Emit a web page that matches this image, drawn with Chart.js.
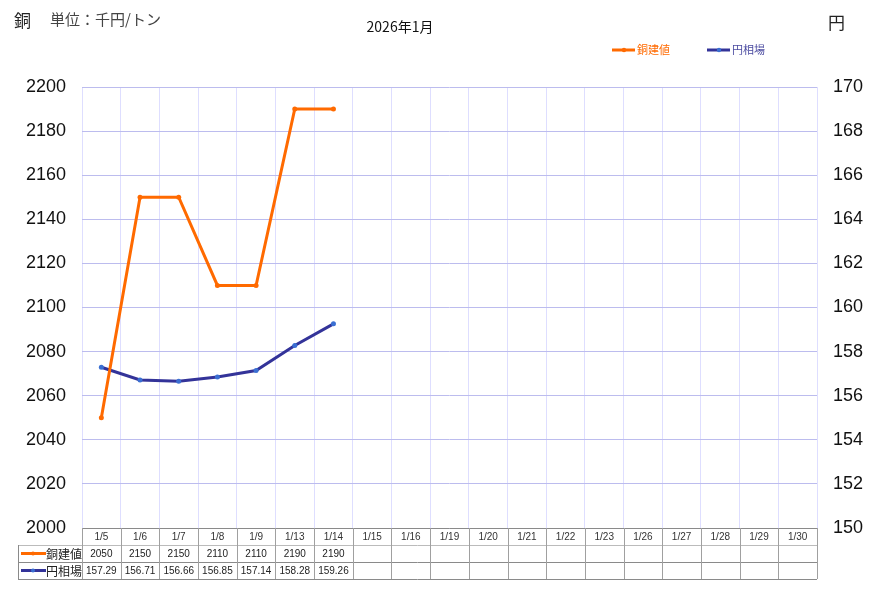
<!DOCTYPE html>
<html><head><meta charset="utf-8">
<script src="https://cdn.jsdelivr.net/npm/chart.js@4.4.1/dist/chart.umd.min.js"></script>
<style>html,body{margin:0;padding:0;background:#fff;}#wrap{width:878px;height:595px;position:relative;}</style>
</head><body><div id="wrap"><canvas id="c" width="878" height="595"></canvas></div>
<script>
const categories = ['1/5','1/6','1/7','1/8','1/9','1/13','1/14','1/15','1/16','1/19','1/20','1/21','1/22','1/23','1/26','1/27','1/28','1/29','1/30'];
const copperValues = [2050,2150,2150,2110,2110,2190,2190];
const yenValues = [157.29,156.71,156.66,156.85,157.14,158.28,159.26];
const copperTableText = ['2050','2150','2150','2110','2110','2190','2190'];
const yenTableText = ['157.29','156.71','156.66','156.85','157.14','158.28','159.26'];
const seriesNames = ['銅建値','円相場'];

const ORANGE = '#ff6a00', NAVY = '#333399', DOT = '#3b6fd2';
const JP = '"Noto Sans CJK JP", "Liberation Sans", sans-serif';
const NUM = '"Liberation Sans", Arial, sans-serif';

const overlay = {
  id: 'overlay',
  afterDraw(chart) {
    const ctx = chart.ctx, ca = chart.chartArea, xs = chart.scales.x;
    ctx.save();
    ctx.fillStyle = '#222'; ctx.textBaseline = 'middle';
    ctx.font = '17px ' + JP; ctx.textAlign = 'left';
    ctx.fillText('銅', 14, 21);
    ctx.fillStyle = '#444'; ctx.font = '15px ' + JP;
    ctx.fillText('単位：千円/トン', 50, 19);
    ctx.fillStyle = '#111'; ctx.font = '14px ' + JP; ctx.textAlign = 'center';
    ctx.fillText('2026年1月', 400, 27);
    ctx.fillStyle = '#222'; ctx.font = '17px ' + JP; ctx.textAlign = 'left';
    ctx.fillText('円', 828, 23);
    const leg = [[612, ORANGE, ORANGE, ORANGE, seriesNames[0], 637], [707, NAVY, DOT, '#4a4aa0', seriesNames[1], 732]];
    leg.forEach(([x, lc, dc, tc, name, tx]) => {
      ctx.strokeStyle = lc; ctx.lineWidth = 3; ctx.beginPath(); ctx.moveTo(x, 50); ctx.lineTo(x + 23, 50); ctx.stroke();
      ctx.fillStyle = dc; ctx.beginPath(); ctx.arc(x + 12, 50, 2.2, 0, Math.PI * 2); ctx.fill();
      ctx.fillStyle = tc; ctx.font = '11px ' + JP; ctx.textAlign = 'left'; ctx.fillText(name, tx, 50);
    });
    const n = categories.length;
    const w = (ca.right - ca.left) / n;
    const r0 = ca.bottom, r1 = r0 + 17, r2 = r1 + 17, r3 = r2 + 17;
    const tl = 18;
    ctx.lineWidth = 1;
    ctx.strokeStyle = '#8a8a8a';
    [[ca.left, r0], [tl, r2], [tl, r3]].forEach(([x0, y]) => { ctx.beginPath(); ctx.moveTo(x0, y + 0.5); ctx.lineTo(ca.right, y + 0.5); ctx.stroke(); });
    ctx.strokeStyle = '#bbbbbb';
    ctx.beginPath(); ctx.moveTo(tl, r1 + 0.5); ctx.lineTo(ca.right, r1 + 0.5); ctx.stroke();
    ctx.strokeStyle = '#8a8a8a';
    ctx.beginPath(); ctx.moveTo(tl + 0.5, r1); ctx.lineTo(tl + 0.5, r3); ctx.stroke();
    for (let i = 0; i <= n; i++) {
      const x = Math.round(xs.getPixelForValue(Math.min(i, n - 1)) + (i === n ? w / 2 : -w / 2)) + 0.5;
      ctx.strokeStyle = '#a0a0a0';
      ctx.beginPath(); ctx.moveTo(x, r0); ctx.lineTo(x, r3); ctx.stroke();
    }
    ctx.fillStyle = '#333'; ctx.font = '10px ' + NUM; ctx.textAlign = 'center';
    categories.forEach((c, i) => ctx.fillText(c, xs.getPixelForValue(i), r0 + 9));
    ctx.fillStyle = '#222';
    copperTableText.forEach((t, i) => ctx.fillText(t, xs.getPixelForValue(i), r1 + 9));
    yenTableText.forEach((t, i) => ctx.fillText(t, xs.getPixelForValue(i), r2 + 9));
    [[r1, ORANGE, ORANGE, seriesNames[0]], [r2, NAVY, DOT, seriesNames[1]]].forEach(([ry, lc, dc, name]) => {
      const y = ry + 8.5;
      ctx.strokeStyle = lc; ctx.lineWidth = 3; ctx.beginPath(); ctx.moveTo(21, y); ctx.lineTo(46, y); ctx.stroke();
      ctx.fillStyle = dc; ctx.beginPath(); ctx.arc(33, y, 2, 0, Math.PI * 2); ctx.fill();
      ctx.fillStyle = '#222'; ctx.font = '12px ' + JP; ctx.textAlign = 'left'; ctx.fillText(name, 46, y + 0.5);
    });
    ctx.restore();
  }
};

new Chart(document.getElementById('c'), {
  type: 'line',
  data: {
    labels: categories,
    datasets: [
      { label: seriesNames[0], data: copperValues, yAxisID: 'y', borderColor: ORANGE, backgroundColor: ORANGE,
        borderWidth: 3, pointRadius: 2.5, pointBorderWidth: 0, pointBackgroundColor: ORANGE, tension: 0 },
      { label: seriesNames[1], data: yenValues, yAxisID: 'y1', borderColor: NAVY, backgroundColor: DOT,
        borderWidth: 3, pointRadius: 2.5, pointBorderWidth: 0, pointBackgroundColor: DOT, tension: 0 }
    ]
  },
  options: {
    responsive: false, animation: false, devicePixelRatio: 1,
    layout: { padding: { top: 87, bottom: 67, left: 0, right: 0 } },
    plugins: { legend: { display: false }, tooltip: { enabled: false }, title: { display: false } },
    scales: {
      x: {
        offset: true,
        grid: { offset: true, color: '#dedeff', lineWidth: 1, drawTicks: false },
        border: { display: false },
        ticks: { display: false },
        afterFit(s) { s.height = 0; }
      },
      y: {
        position: 'left', min: 2000, max: 2200,
        ticks: { stepSize: 20, color: '#111', font: { size: 18, family: NUM }, padding: 16, callback: v => String(v) },
        grid: { color: '#bcbcee', drawTicks: false },
        border: { display: false },
        afterFit(s) { s.width = 82; }
      },
      y1: {
        position: 'right', min: 150, max: 170,
        ticks: { stepSize: 2, color: '#111', font: { size: 18, family: NUM }, padding: 16, callback: v => String(v) },
        grid: { display: false, drawTicks: false },
        border: { color: '#dedeff' },
        afterFit(s) { s.width = 61; }
      }
    }
  },
  plugins: [overlay]
});
</script></body></html>
